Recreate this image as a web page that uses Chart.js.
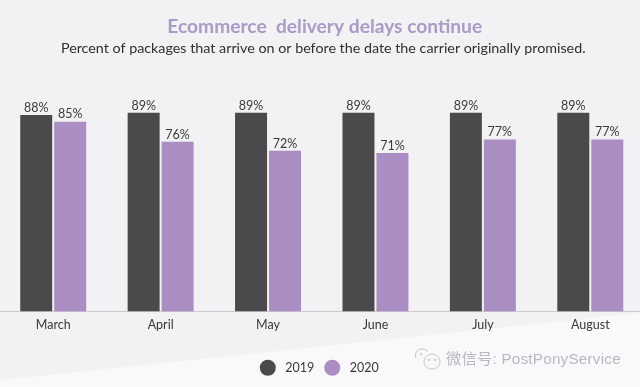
<!DOCTYPE html>
<html><head><meta charset="utf-8">
<script src="https://cdn.jsdelivr.net/npm/chart.js@4"></script>
<style>
html,body{margin:0;padding:0;width:640px;height:387px;overflow:hidden;background:#f2f1f3;}
#bg{position:absolute;left:0;top:0;width:640px;height:387px;background:#faf8fa;clip-path:polygon(0 380px,640px 313px,640px 387px,0 387px);}
#wrap{position:absolute;left:-1px;top:0;width:645px;height:387px;}
#mark{position:absolute;left:446px;top:346px;font:15.3px "Liberation Sans","Noto Sans CJK SC",sans-serif;color:#bab8bd;white-space:nowrap;letter-spacing:.2px;}
#icon{position:absolute;left:413px;top:347px;}
</style></head><body>
<div id="bg"></div>
<div id="wrap"><canvas id="c" width="645" height="387"></canvas></div>
<svg id="icon" width="30" height="24" viewBox="0 0 30 24" fill="none" stroke="#c4c2c7" stroke-width="1"><path d="M3 11C1 7 4 2 9 2c3 0 5 1 6 3"/><path d="M11 15c0-4 4-8 8-8s8 4 8 8-4 7-8 7-8-3-8-7z"/><circle cx="8" cy="7" r=".8"/><circle cx="16" cy="13" r=".8"/><circle cx="22" cy="13" r=".8"/></svg>
<div id="mark">微信号: PostPonyService</div>
<script>
const categories=["March","April","May","June","July","August"];
const series2019=[88,89,89,89,89,89];
const series2020=[85,76,72,71,77,77];
const seriesNames=["2019","2020"];
const titleText="Ecommerce  delivery delays continue";
const subtitleText="Percent of packages that arrive on or before the date the carrier originally promised.";
const dark="#4b494b", purple="#a98dc3";
const valueLabels={id:"valueLabels",
  afterLayout(chart){
    chart.legend.left-=2.5;chart.legend.right-=2.5;
    chart.boxes.forEach(b=>{
      if(b.options&&b.options.text===titleText){b.left+=3;b.right+=3;}
      if(b.options&&b.options.text===subtitleText){b.left+=1.5;b.right+=1.5;}
    });
  },
  afterDatasetsDraw(chart){
  const ctx=chart.ctx;ctx.save();
  ctx.font='12.5px Lato';ctx.fillStyle="#3a3a3a";ctx.textAlign="center";ctx.textBaseline="bottom";
  chart.data.datasets.forEach((d,i)=>{chart.getDatasetMeta(i).data.forEach((el,j)=>{
    ctx.fillText(d.data[j]+"%",el.x,el.y-1);
  });});
  ctx.restore();
}};
new Chart(document.getElementById("c"),{
  type:"bar",
  data:{labels:categories,datasets:[
    {label:seriesNames[0],data:series2019,backgroundColor:dark},
    {label:seriesNames[1],data:series2020,backgroundColor:purple}
  ]},
  options:{
    responsive:false,animation:false,
    categoryPercentage:0.6326,barPercentage:0.941,
    layout:{padding:{top:0,bottom:3,left:0.5,right:0}},
    scales:{
      x:{grid:{display:false,drawTicks:false},border:{color:"#cbcacc",width:1},
         ticks:{color:"#3a3a3a",font:{family:"Lato",size:12.5},padding:6,maxRotation:0},
         afterFit(s){s.height+=13;}},
      y:{display:false,min:0,max:100}
    },
    plugins:{
      title:{display:true,text:titleText,color:"#a99bc6",font:{family:"Lato",size:19.2,weight:"bold"},padding:{top:15,bottom:2}},
      subtitle:{display:true,text:subtitleText,color:"#2f2f2f",font:{family:"Lato",size:14.3},padding:{top:0,bottom:31}},
      legend:{position:"bottom",labels:{usePointStyle:true,pointStyle:"circle",pointStyleWidth:16,boxWidth:16,boxHeight:11.3,color:"#3a3a3a",font:{family:"Lato",size:12.5},padding:10,
        generateLabels(chart){
          return Chart.defaults.plugins.legend.labels.generateLabels(chart).map(l=>({...l,text:" "+l.text}));
        }}},
      tooltip:{enabled:false}
    }
  },
  plugins:[valueLabels]
});
</script>
</body></html>
